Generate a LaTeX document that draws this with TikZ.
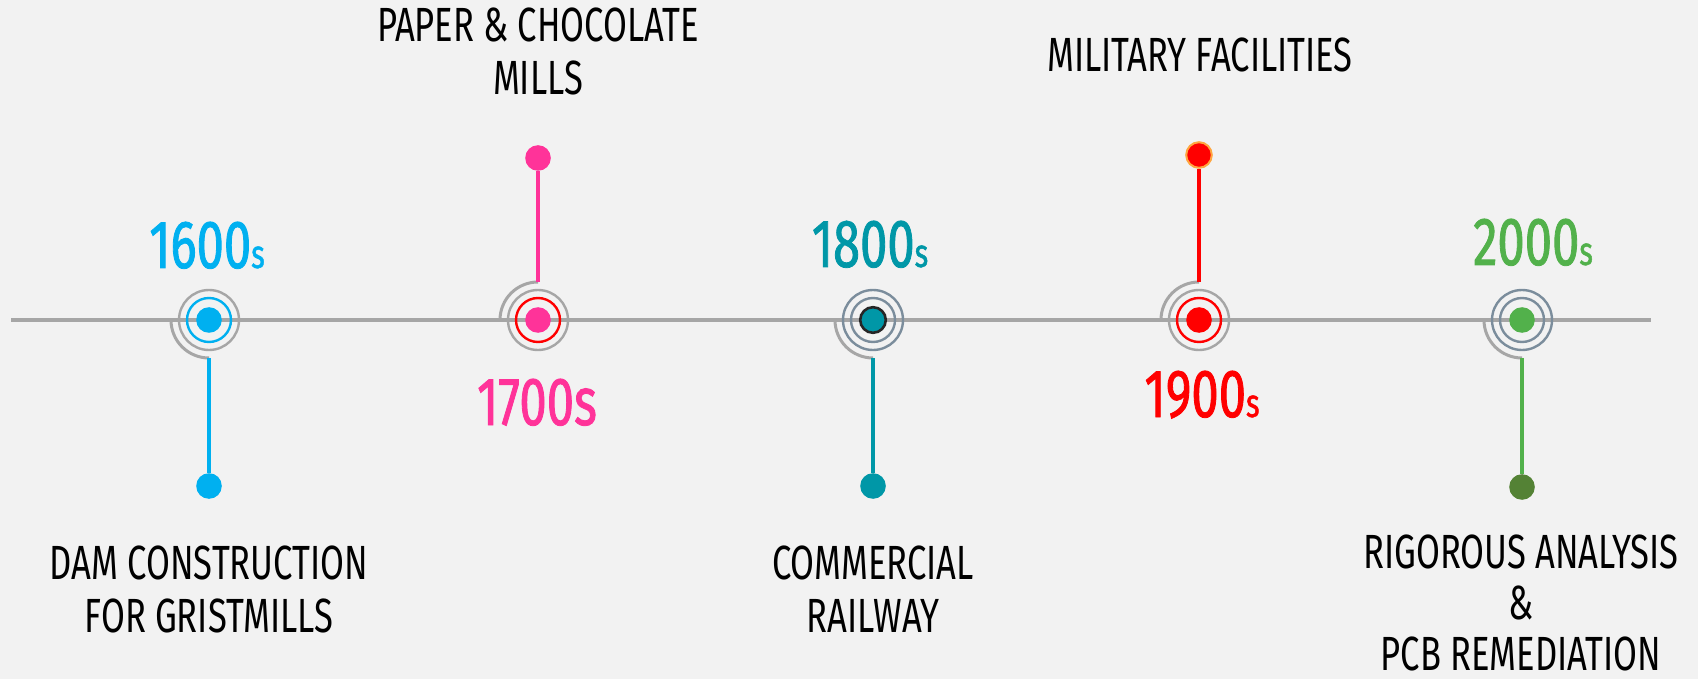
\documentclass[tikz,border=0pt]{standalone}
\usepackage{fontspec}
\setmainfont{Fira Sans}[FakeStretch=0.72]
\newfontfamily\erafont{Fira Sans}[FakeStretch=0.72, FakeBold=1.2]

\definecolor{bg}{HTML}{F2F2F2}
\definecolor{axisgray}{HTML}{A6A6A6}
\definecolor{slate}{HTML}{7B8D9C}
\definecolor{c1600}{HTML}{00B0F0}
\definecolor{c1700}{HTML}{FF3399}
\definecolor{c1800}{HTML}{0097A7}
\definecolor{c1900}{HTML}{FF0000}
\definecolor{c2000}{HTML}{52B14B}
\definecolor{darkgreen}{HTML}{548235}
\definecolor{amber}{HTML}{FFA640}

\begin{document}
\begin{tikzpicture}[x=0.5pt, y=-0.5pt,
  hub/.style={circle, inner sep=0pt, minimum size=12.8pt},
  tip/.style={circle, inner sep=0pt, minimum size=12.8pt},
  ring/.style={line width=1.2pt},
  quarterarc/.style={line width=1.5pt, draw=axisgray},
  stem/.style={line width=1.6pt},
  era/.style={anchor=base, inner sep=0pt, font=\erafont\fontsize{34}{34}\selectfont},
  note/.style={anchor=north, inner sep=0pt, align=center, font=\fontsize{24}{26.5}\selectfont}]

  % background
  \fill[bg] (0,0) rectangle (1698,679);
  \useasboundingbox (0,0) rectangle (1698,679);

  % axis
  \draw[line width=1.7pt, axisgray] (11,320) -- (1651,320);

  % 1600s
  \node[hub, fill=c1600] (h1600) at (209,320) {};
  \draw[ring, axisgray] (h1600.center) circle[radius=15pt];
  \draw[ring, c1600] (h1600.center) circle[radius=11pt];
  \draw[quarterarc] ([xshift=-19pt]h1600.center) arc[start angle=180, end angle=270, radius=19pt] coordinate (s1600);
  \node[tip, fill=c1600] (t1600) at (209,486) {};
  \draw[stem, c1600] (s1600) -- (t1600);
  \node[era, c1600] (y1600) at (207,268) {1600{\fontsize{20}{20}\selectfont s}};
  \node[note] (n1600) at (209,545) {DAM CONSTRUCTION\\FOR GRISTMILLS};

  % 1700s
  \node[hub, fill=c1700] (h1700) at (538,320) {};
  \draw[ring, axisgray] (h1700.center) circle[radius=15pt];
  \draw[ring, c1900] (h1700.center) circle[radius=11pt];
  \draw[quarterarc] ([xshift=-19pt]h1700.center) arc[start angle=180, end angle=90, radius=19pt] coordinate (s1700);
  \node[tip, fill=c1700] (t1700) at (538,158) {};
  \draw[stem, c1700] (s1700) -- (t1700);
  \node[era, c1700] (y1700) at (537,425) {1700s};
  \node[note] (n1700) at (538,7) {PAPER \& CHOCOLATE\\MILLS};

  % 1800s
  \node[hub, fill=c1800, draw=black!85, line width=1.3pt] (h1800) at (873,320) {};
  \draw[ring, slate] (h1800.center) circle[radius=15pt];
  \draw[ring, slate] (h1800.center) circle[radius=11pt];
  \draw[quarterarc] ([xshift=-19pt]h1800.center) arc[start angle=180, end angle=270, radius=19pt] coordinate (s1800);
  \node[tip, fill=c1800] (t1800) at (873,486) {};
  \draw[stem, c1800] (s1800) -- (t1800);
  \node[era, c1800] (y1800) at (870,267) {1800{\fontsize{20}{20}\selectfont s}};
  \node[note] (n1800) at (873,545) {COMMERCIAL\\RAILWAY};

  % 1900s
  \node[hub, fill=c1900] (h1900) at (1199,320) {};
  \draw[ring, axisgray] (h1900.center) circle[radius=15pt];
  \draw[ring, c1900] (h1900.center) circle[radius=11pt];
  \draw[quarterarc] ([xshift=-19pt]h1900.center) arc[start angle=180, end angle=90, radius=19pt] coordinate (s1900);
  \node[tip, fill=c1900, draw=amber, line width=1pt] (t1900) at (1199,155) {};
  \draw[stem, c1900] (s1900) -- (t1900);
  \node[era, c1900] (y1900) at (1202,417) {1900{\fontsize{20}{20}\selectfont s}};
  \node[note] (n1900) at (1200,37) {MILITARY FACILITIES};

  % 2000s
  \node[hub, fill=c2000] (h2000) at (1522,320) {};
  \draw[ring, slate] (h2000.center) circle[radius=15pt];
  \draw[ring, slate] (h2000.center) circle[radius=11pt];
  \draw[quarterarc] ([xshift=-19pt]h2000.center) arc[start angle=180, end angle=270, radius=19pt] coordinate (s2000);
  \node[tip, fill=darkgreen] (t2000) at (1522,487) {};
  \draw[stem, c2000] (s2000) -- (t2000);
  \node[era, c2000] (y2000) at (1533,265) {2000{\fontsize{20}{20}\selectfont s}};
  \node[note, font=\fontsize{24}{25.5}\selectfont] (n2000) at (1521,534) {RIGOROUS ANALYSIS\\\&\\PCB REMEDIATION};
\end{tikzpicture}
\end{document}
